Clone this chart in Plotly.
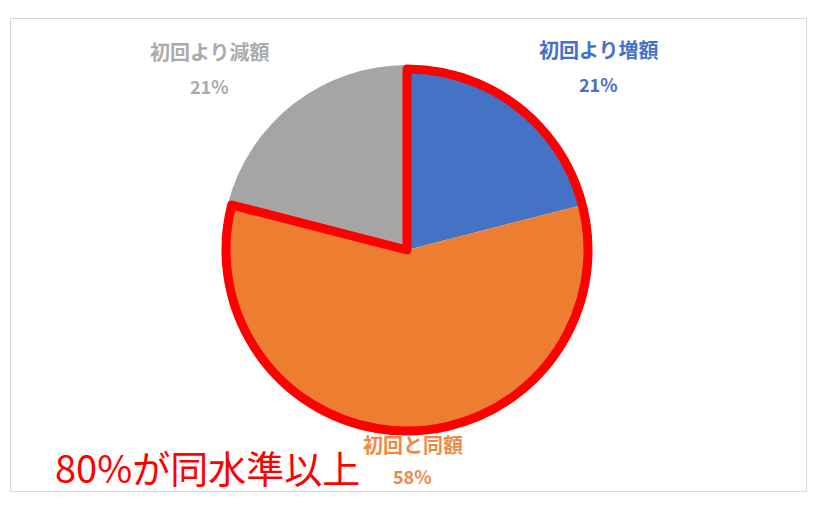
import plotly.graph_objects as go

# ---- data ----
categories = ["初回より増額", "初回と同額", "初回より減額"]
values = [21, 58, 21]
slice_colors = ["#4472C4", "#ED7D31", "#A5A5A5"]
label_colors = ["#4472C4", "#EE8A47", "#ABABAB"]
same_or_more = ["初回より増額", "初回と同額"]
callout_text = "80%が同水準以上"

# ---- layout helpers ----
W, H = 820, 508
def px(x):
    return x / W
def py(y):
    return 1 - y / H

CX, CY, R = 407, 250, 185
R_OUT = 181
LINE_W = 9

total = sum(values)
pct = [round(v / total * 100) for v in values]
hi_sum = sum(v for c, v in zip(categories, values) if c in same_or_more)
lo_sum = total - hi_sum

fig = go.Figure()
fig.add_trace(go.Pie(
    labels=categories, values=values, sort=False, direction="clockwise",
    rotation=0, marker=dict(colors=slice_colors, line=dict(width=0)),
    textinfo="none", hoverinfo="label+percent", showlegend=False,
    domain=dict(x=[px(CX - R), px(CX + R)], y=[py(CY + R), py(CY - R)]),
))
fig.add_trace(go.Pie(
    labels=["同水準以上", "減額"], values=[hi_sum, lo_sum], sort=False,
    direction="clockwise", rotation=0,
    marker=dict(colors=["rgba(0,0,0,0)", "rgba(0,0,0,0)"],
                line=dict(color=["#FF0000", "rgba(0,0,0,0)"], width=[LINE_W, 0])),
    textinfo="none", hoverinfo="skip", showlegend=False,
    domain=dict(x=[px(CX - R_OUT), px(CX + R_OUT)], y=[py(CY + R_OUT), py(CY - R_OUT)]),
))

name_pos = [(599, 49.5), (412.5, 444), (210, 51.5)]
pct_pos = [(598, 83.5), (412, 475.5), (209, 85.5)]
annotations = []
for i, c in enumerate(categories):
    annotations.append(dict(
        text=f"<b>{c}</b>", x=px(name_pos[i][0]), y=py(name_pos[i][1]),
        xref="paper", yref="paper", showarrow=False, xanchor="center", yanchor="middle",
        font=dict(family="Noto Sans CJK JP", size=20, color=label_colors[i])))
    annotations.append(dict(
        text=f"<b>{pct[i]}%</b>", x=px(pct_pos[i][0]), y=py(pct_pos[i][1]),
        xref="paper", yref="paper", showarrow=False, xanchor="center", yanchor="middle",
        font=dict(family="Noto Sans CJK JP", size=18, color=label_colors[i])))
annotations.append(dict(
    text=callout_text, x=px(53), y=py(466), xref="paper", yref="paper",
    showarrow=False, xanchor="left", yanchor="middle",
    font=dict(family="Noto Sans CJK JP", size=38, color="#FF0000")))

fig.update_layout(
    width=W, height=H, autosize=False,
    margin=dict(l=0, r=0, t=0, b=0),
    paper_bgcolor="white", plot_bgcolor="white",
    annotations=annotations,
    shapes=[dict(type="rect", xref="paper", yref="paper",
                 x0=px(10.5), x1=px(806.5), y0=py(491.5), y1=py(18.5),
                 line=dict(color="#D9D9D9", width=1), layer="below")],
)

fig.write_html("out.html", config={"displayModeBar": False},
               post_script="document.body.style.margin='0';")
